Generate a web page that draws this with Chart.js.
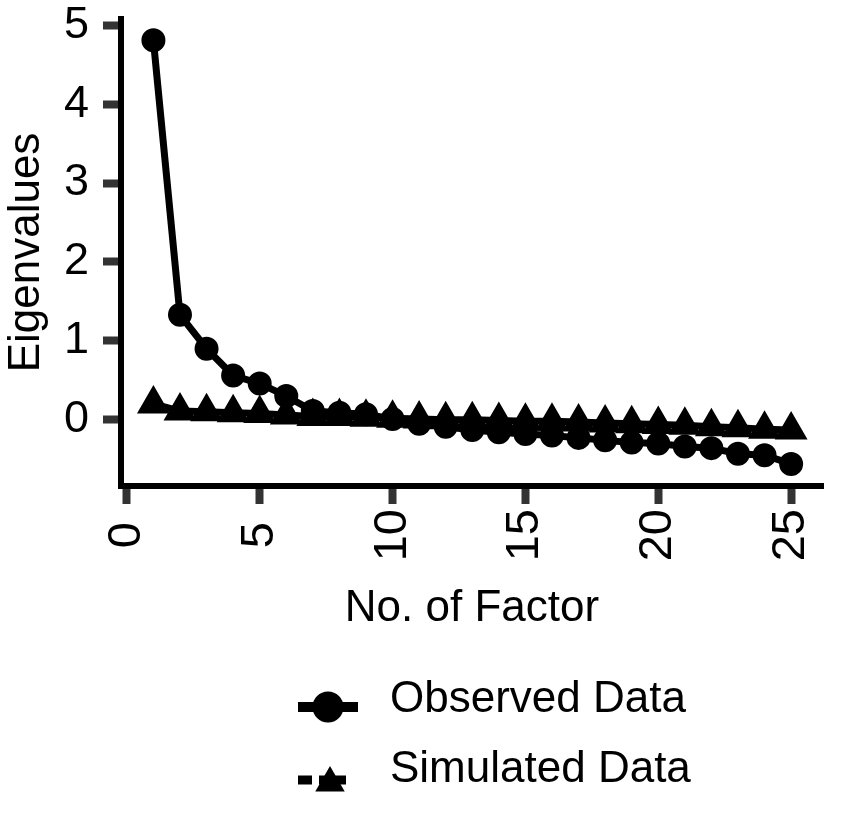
<!DOCTYPE html>
<html>
<head>
<meta charset="utf-8">
<title>Scree plot</title>
<script src="https://cdn.jsdelivr.net/npm/chart.js@4.4.1/dist/chart.umd.min.js"></script>
<style>
  html, body { margin: 0; padding: 0; background: #fff; }
  #wrap { width: 842px; height: 817px; position: relative; }
</style>
</head>
<body>
<div id="wrap"><canvas id="scree"></canvas></div>
<script>
// values
const factors = [1,2,3,4,5,6,7,8,9,10,11,12,13,14,15,16,17,18,19,20,21,22,23,24,25];
const observed = [4.81, 1.33, 0.90, 0.56, 0.46, 0.30, 0.11, 0.09, 0.07, 0.01, -0.05, -0.09, -0.13,
                  -0.16, -0.18, -0.20, -0.23, -0.26, -0.29, -0.30, -0.34, -0.36, -0.43, -0.45, -0.56];
const simulated = [0.20, 0.11, 0.10, 0.09, 0.08, 0.06, 0.04, 0.04, 0.03, 0.02, 0.01, 0.00, 0.00,
                   -0.01, -0.02, -0.02, -0.03, -0.04, -0.05, -0.06, -0.07, -0.09, -0.10, -0.12, -0.13];
const seriesNames = ['Observed Data', 'Simulated Data'];
const xTicks = [0, 5, 10, 15, 20, 25];
const yTicks = [0, 1, 2, 3, 4, 5];

const FONT = "'Liberation Sans', Arial, Helvetica, sans-serif";
const font44 = { family: FONT, size: 44 };
const LEGEND_X = 298;

// legend swatch: line with the marker on it
function swatch(kind) {
  const c = document.createElement('canvas');
  c.width = 70; c.height = 60;
  const g = c.getContext('2d');
  g.fillStyle = '#000';
  g.strokeStyle = '#000';
  if (kind === 'circle') {
    g.lineWidth = 10;
    g.beginPath(); g.moveTo(0, 37); g.lineTo(60, 37); g.stroke();
    g.beginPath(); g.arc(30, 37, 15.5, 0, Math.PI * 2); g.fill();
  } else {
    g.lineWidth = 9;
    g.beginPath();
    g.moveTo(0, 40); g.lineTo(14, 40);
    g.moveTo(21, 40); g.lineTo(48, 40);
    g.stroke();
    const r = 17, cx = 32, cy = 43;
    g.beginPath();
    g.moveTo(cx, cy - r);
    g.lineTo(cx + Math.sin(2 * Math.PI / 3) * r, cy + r / 2);
    g.lineTo(cx - Math.sin(2 * Math.PI / 3) * r, cy + r / 2);
    g.closePath();
    g.fill();
  }
  return c;
}
const swatches = [swatch('circle'), swatch('triangle')];

// keep the stacked legend rows left-aligned under the plot
const legendPlacement = {
  id: 'legendPlacement',
  afterLayout(chart) {
    const lg = chart.legend;
    lg.left = LEGEND_X - lg.options.labels.padding;
  }
};

const axisGrid = { drawOnChartArea: false, drawTicks: true, tickLength: 18, tickWidth: 8, tickColor: '#333' };
const axisBorder = { display: true, color: '#000', width: 6 };

new Chart(document.getElementById('scree'), {
  type: 'line',
  data: {
    datasets: [
      {
        label: seriesNames[0],
        data: factors.map((f, i) => ({ x: f, y: observed[i] })),
        borderColor: '#000', backgroundColor: '#000',
        borderWidth: 7, tension: 0,
        pointStyle: 'circle', pointRadius: 11, pointBorderWidth: 2,
        pointBackgroundColor: '#000', pointBorderColor: '#000'
      },
      {
        label: seriesNames[1],
        data: factors.map((f, i) => ({ x: f, y: simulated[i] })),
        borderColor: '#000', backgroundColor: '#000',
        borderWidth: 7, tension: 0,
        pointStyle: 'triangle', pointRadius: 17, pointBorderWidth: 2,
        pointBackgroundColor: '#000', pointBorderColor: '#000'
      }
    ]
  },
  options: {
    responsive: true,
    maintainAspectRatio: false,
    animation: false,
    layout: { padding: { top: 18, right: 2, bottom: 15, left: 0 } },
    plugins: {
      tooltip: { enabled: false },
      legend: {
        position: 'bottom',
        align: 'start',
        labels: {
          usePointStyle: true,
          pointStyleWidth: 70,
          padding: 26,
          color: '#000',
          font: font44,
          generateLabels: (chart) => chart.data.datasets.map((ds, i) => ({
            text: ds.label,
            pointStyle: swatches[i],
            fillStyle: '#000', strokeStyle: '#000', lineWidth: 0,
            fontColor: '#000', hidden: false, datasetIndex: i
          }))
        }
      }
    },
    scales: {
      x: {
        type: 'linear',
        min: -0.22, max: 26.2,
        afterBuildTicks: (s) => { s.ticks = xTicks.map(v => ({ value: v })); },
        afterFit: (s) => { s.height = 166; s.paddingLeft = 0; s.paddingRight = 0; },
        grid: axisGrid,
        border: axisBorder,
        ticks: {
          autoSkip: false, minRotation: 90, maxRotation: 90, padding: 5,
          color: '#000', font: { family: FONT, size: 47 },
          callback: (v) => (v < 10 ? v + ' ' : String(v))
        },
        title: { display: true, text: 'No. of Factor', color: '#000', font: font44, padding: { top: 0, bottom: 17 } }
      },
      y: {
        type: 'linear',
        min: -0.84, max: 5.08,
        afterBuildTicks: (s) => { s.ticks = yTicks.map(v => ({ value: v })); },
        afterFit: (s) => { s.width = 121; s.paddingTop = 0; s.paddingBottom = 0; },
        grid: axisGrid,
        border: axisBorder,
        ticks: { padding: 14, color: '#000', font: { family: FONT, size: 45 } },
        title: { display: true, text: 'Eigenvalues', color: '#000', font: font44, padding: { top: 0, bottom: 0 } }
      }
    }
  },
  plugins: [legendPlacement]
});
</script>
</body>
</html>
